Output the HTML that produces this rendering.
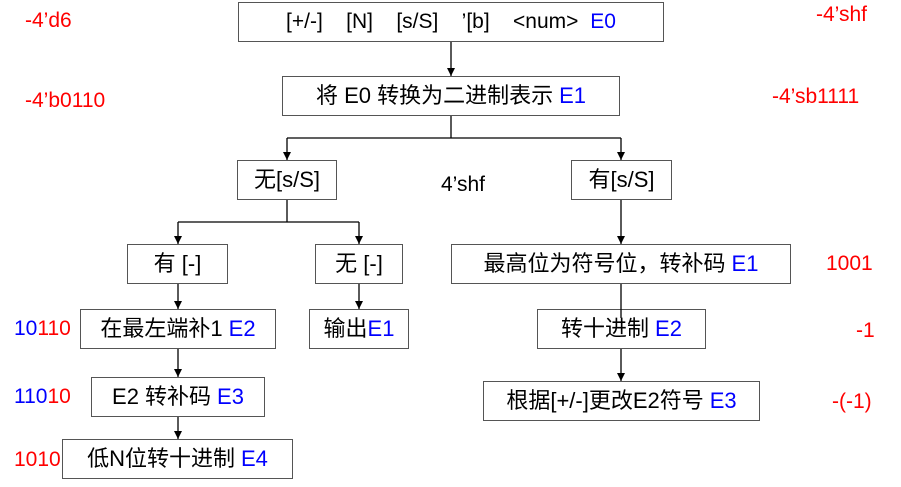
<!DOCTYPE html>
<html><head><meta charset="utf-8"><style>
body{margin:0;width:901px;height:487px;background:#fff;position:relative;overflow:hidden;font-family:"Liberation Sans","Noto Sans CJK SC",sans-serif;}
.b{position:absolute;box-sizing:border-box;border:1.5px solid #555;display:flex;align-items:center;justify-content:center;font-size:22px;line-height:26px;color:#000;white-space:nowrap;background:#fff}
.b span{margin-left:6px}
.t{position:absolute;font-size:21px;white-space:nowrap;line-height:24px}
.r{color:#f00}.u{color:#00f}
svg{position:absolute;left:0;top:0;z-index:2}
</style></head><body>
<svg width="901" height="487" stroke="#000" stroke-width="1.3" fill="none">
<defs><marker id="a" markerWidth="10" markerHeight="10" refX="8" refY="4" orient="auto" markerUnits="userSpaceOnUse"><path d="M0,0 L8,4 L0,8z" fill="#000" stroke="none"/></marker></defs>
<line x1="451" y1="42" x2="451" y2="76" marker-end="url(#a)"/>
<polyline points="451,116 451,138"/>
<polyline points="287,138 621,138"/>
<line x1="287" y1="138" x2="287" y2="160" marker-end="url(#a)"/>
<line x1="621" y1="138" x2="621" y2="160" marker-end="url(#a)"/>
<polyline points="287,200 287,222"/>
<polyline points="178,222 359,222"/>
<line x1="178" y1="222" x2="178" y2="244" marker-end="url(#a)"/>
<line x1="359" y1="222" x2="359" y2="244" marker-end="url(#a)"/>
<line x1="178" y1="284" x2="178" y2="309" marker-end="url(#a)"/>
<line x1="359" y1="284" x2="359" y2="309" marker-end="url(#a)"/>
<line x1="178" y1="349" x2="178" y2="377" marker-end="url(#a)"/>
<line x1="178" y1="417" x2="178" y2="439" marker-end="url(#a)"/>
<line x1="621" y1="200" x2="621" y2="244" marker-end="url(#a)"/>
<line x1="621" y1="284" x2="621" y2="318"/>
<line x1="621" y1="349" x2="621" y2="381" marker-end="url(#a)"/>
</svg>
<div class="b" style="left:238px;top:2px;width:426px;height:40px;font-size:21px">[+/-]&nbsp;&nbsp;&nbsp; [N]&nbsp;&nbsp;&nbsp; [s/S]&nbsp;&nbsp;&nbsp; ’[b]&nbsp;&nbsp;&nbsp; &lt;num&gt;<span class="u">&nbsp;E0</span></div>
<div class="b" style="left:282px;top:76px;width:338px;height:40px">将 E0 转换为二进制表示<span class="u">E1</span></div>
<div class="b" style="left:237px;top:160px;width:100px;height:40px">无[s/S]</div>
<div class="b" style="left:571px;top:160px;width:101px;height:40px">有[s/S]</div>
<div class="b" style="left:127px;top:244px;width:101px;height:40px">有 [-]</div>
<div class="b" style="left:315px;top:244px;width:88px;height:40px">无 [-]</div>
<div class="b" style="left:80px;top:309px;width:196px;height:40px">在最左端补1<span class="u">E2</span></div>
<div class="b" style="left:309px;top:309px;width:100px;height:40px">输出<span class="u" style="margin:0">E1</span></div>
<div class="b" style="left:91px;top:377px;width:174px;height:40px">E2 转补码<span class="u">E3</span></div>
<div class="b" style="left:62px;top:439px;width:231px;height:40px">低N位转十进制<span class="u">E4</span></div>
<div class="b" style="left:451px;top:244px;width:340px;height:40px">最高位为符号位，转补码<span class="u">E1</span></div>
<div class="b" style="left:537px;top:309px;width:169px;height:40px">转十进制<span class="u">E2</span></div>
<div class="b" style="left:483px;top:381px;width:277px;height:40px">根据[+/-]更改E2符号<span class="u">E3</span></div>
<div class="t r" style="left:25px;top:9px">-4’d6</div>
<div class="t r" style="left:25px;top:89px">-4’b0110</div>
<div class="t r" style="left:816px;top:3px">-4’shf</div>
<div class="t r" style="left:772px;top:85px">-4’sb1111</div>
<div class="t" style="left:441px;top:173px">4’shf</div>
<div class="t r" style="left:826px;top:252px">1001</div>
<div class="t r" style="left:856px;top:319px">-1</div>
<div class="t r" style="left:832px;top:390px">-(-1)</div>
<div class="t" style="left:14px;top:317px"><span class="u">10</span><span class="r">110</span></div>
<div class="t" style="left:14px;top:385px"><span class="u">110</span><span class="r">10</span></div>
<div class="t r" style="left:14px;top:448px">1010</div>
</body></html>
